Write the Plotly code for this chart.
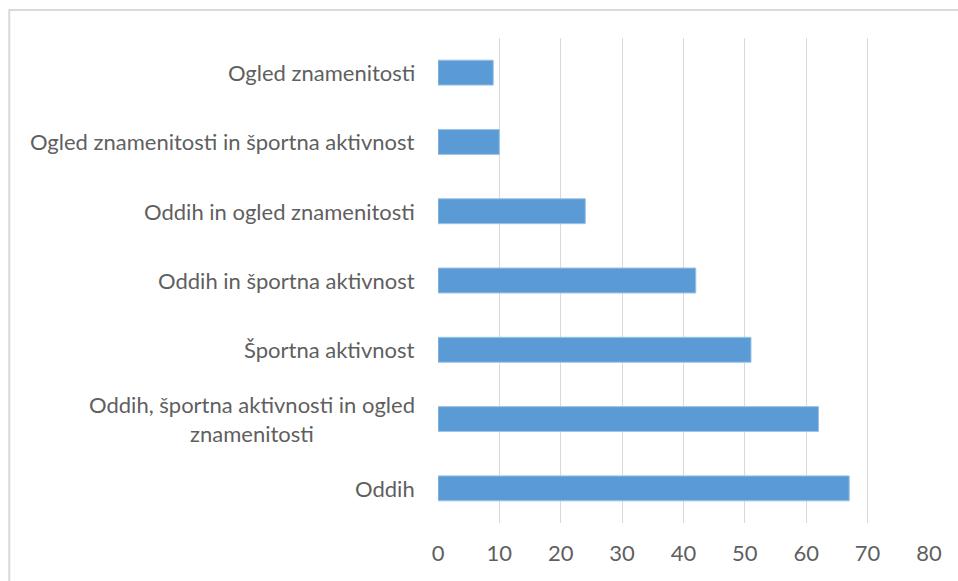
import plotly.graph_objects as go

# Activity categories, listed top to bottom, and their counts
categories = [
    "Ogled znamenitosti",
    "Ogled znamenitosti in športna aktivnost",
    "Oddih in ogled znamenitosti",
    "Oddih in športna aktivnost",
    "Športna aktivnost",
    "Oddih, športna aktivnosti in ogled<br>znamenitosti",
    "Oddih",
]
values = [9, 10, 24, 42, 51, 62, 67]
x_ticks = [0, 10, 20, 30, 40, 50, 60, 70, 80]

FONT = "Lato"
TEXT_COLOR = "#5f5f5f"
GRID = "#D9D9D9"
BAR = "#5B9BD5"

fig = go.Figure(
    go.Bar(
        x=values,
        y=categories,
        orientation="h",
        marker=dict(color=BAR, line=dict(color="#9DC3E6", width=1)),
        hoverinfo="x+y",
    )
)

# Category labels drawn as centred annotations so wrapped lines stay centred
for cat in categories:
    fig.add_annotation(
        x=0, y=cat, xref="x", yref="y",
        text=cat, showarrow=False,
        xanchor="right", xshift=-21, align="center",
        font=dict(family=FONT, size=22, color=TEXT_COLOR),
    )

# Light outer frame of the chart area
fig.add_shape(
    type="rect", xref="paper", yref="paper",
    x0=-0.8732, x1=1.2, y0=-0.3, y1=1.0578,
    line=dict(color=GRID, width=2), fillcolor="rgba(0,0,0,0)",
    layer="below",
)

fig.update_layout(
    width=958, height=581,
    margin=dict(l=438, r=29, t=38, b=58),
    paper_bgcolor="white", plot_bgcolor="white",
    bargap=0.64,
    showlegend=False,
    xaxis=dict(
        range=[0, 80], tickvals=x_ticks, ticktext=[str(v) for v in x_ticks],
        showgrid=True, gridcolor=GRID, gridwidth=1,
        zeroline=False, showline=False, ticks="",
        tickfont=dict(family=FONT, size=22, color=TEXT_COLOR),
        ticklabelstandoff=15,
        fixedrange=True,
    ),
    yaxis=dict(
        categoryorder="array", categoryarray=categories,
        autorange="reversed",
        showticklabels=False, showgrid=False, zeroline=False, ticks="",
        fixedrange=True,
    ),
)

fig.write_html("out.html")
